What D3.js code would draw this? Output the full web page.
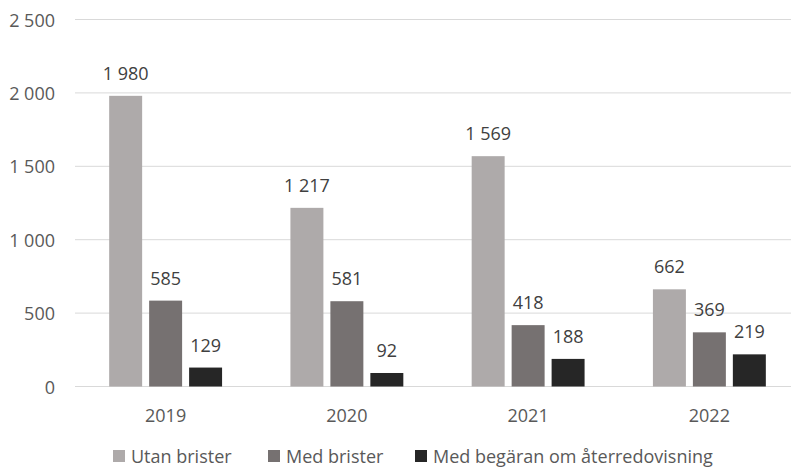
<!DOCTYPE html>
<html>
<head>
<meta charset="utf-8">
<script src="https://cdn.jsdelivr.net/npm/d3@7"></script>
<style>
  body { margin: 0; background: white; }
  text { font-family: "Open Sans", sans-serif; }
</style>
</head>
<body>
<div id="container"></div>
<script>
let w = 791;
let h = 468;

let years = ["2019", "2020", "2021", "2022"];
let seriesNames = ["Utan brister", "Med brister", "Med begäran om återredovisning"];
let utanBrister = [1980, 1217, 1569, 662];
let medBrister = [585, 581, 418, 369];
let medBegaran = [129, 92, 188, 219];
let yTicks = [0, 500, 1000, 1500, 2000, 2500];
let colors = ["#AEAAAA", "#767171", "#262626"];

let allSeries = [utanBrister, medBrister, medBegaran];

let locale = d3.formatLocale({ decimal: ",", thousands: "\u00a0", grouping: [3], currency: ["", " kr"] });
let fmt = locale.format(",d");

// plot area runs a bit past the right edge, like the original
let margin = { top: 19.5, right: -9, bottom: 81.5, left: 75 };

let viz = d3.select("#container")
  .append("svg")
  .attr("width", w)
  .attr("height", h);

let x = d3.scaleBand()
  .domain(years)
  .range([margin.left, w - margin.right]);

let xInner = d3.scaleBand()
  .domain(d3.range(allSeries.length))
  .range([0, x.bandwidth()])
  .paddingInner(0.175)
  .paddingOuter(0.855);

let y = d3.scaleLinear()
  .domain([0, 2500])
  .range([h - margin.bottom, margin.top]);

// gridlines
viz.append("g")
  .selectAll("line")
  .data(yTicks)
  .join("line")
  .attr("x1", margin.left)
  .attr("x2", w - margin.right)
  .attr("y1", d => y(d))
  .attr("y2", d => y(d))
  .attr("stroke", "#D9D9D9")
  .attr("stroke-width", 1);

// y axis labels
viz.append("g")
  .selectAll("text")
  .data(yTicks)
  .join("text")
  .attr("x", 55)
  .attr("y", d => y(d) + 7)
  .attr("text-anchor", "end")
  .attr("fill", "#595959")
  .attr("font-size", 18)
  .text(d => fmt(d));

// bars
let groups = viz.append("g")
  .selectAll("g")
  .data(allSeries)
  .join("g")
  .attr("fill", (d, i) => colors[i]);

groups.each(function (vals, si) {
  let g = d3.select(this);
  g.selectAll("rect")
    .data(vals)
    .join("rect")
    .attr("x", (d, i) => x(years[i]) + xInner(si))
    .attr("y", d => y(d))
    .attr("width", xInner.bandwidth())
    .attr("height", d => y(0) - y(d));

  g.selectAll("text")
    .data(vals)
    .join("text")
    .attr("x", (d, i) => x(years[i]) + xInner(si) + xInner.bandwidth() / 2)
    .attr("y", d => y(d) - 16)
    .attr("text-anchor", "middle")
    .attr("fill", "#404040")
    .attr("font-size", 18)
    .text(d => fmt(d));
});

// x axis labels
viz.append("g")
  .selectAll("text")
  .data(years)
  .join("text")
  .attr("x", d => x(d) + x.bandwidth() / 2)
  .attr("y", h - margin.bottom + 35)
  .attr("text-anchor", "middle")
  .attr("fill", "#595959")
  .attr("font-size", 18)
  .text(d => d);

// legend
let legendX = [113, 268, 415];
let legend = viz.append("g")
  .selectAll("g")
  .data(seriesNames)
  .join("g")
  .attr("transform", (d, i) => "translate(" + legendX[i] + ",450)");

legend.append("rect")
  .attr("width", 12)
  .attr("height", 12)
  .attr("fill", (d, i) => colors[i]);

legend.append("text")
  .attr("x", 18)
  .attr("y", 13)
  .attr("fill", "#595959")
  .attr("font-size", 18)
  .text(d => d);
</script>
</body>
</html>
